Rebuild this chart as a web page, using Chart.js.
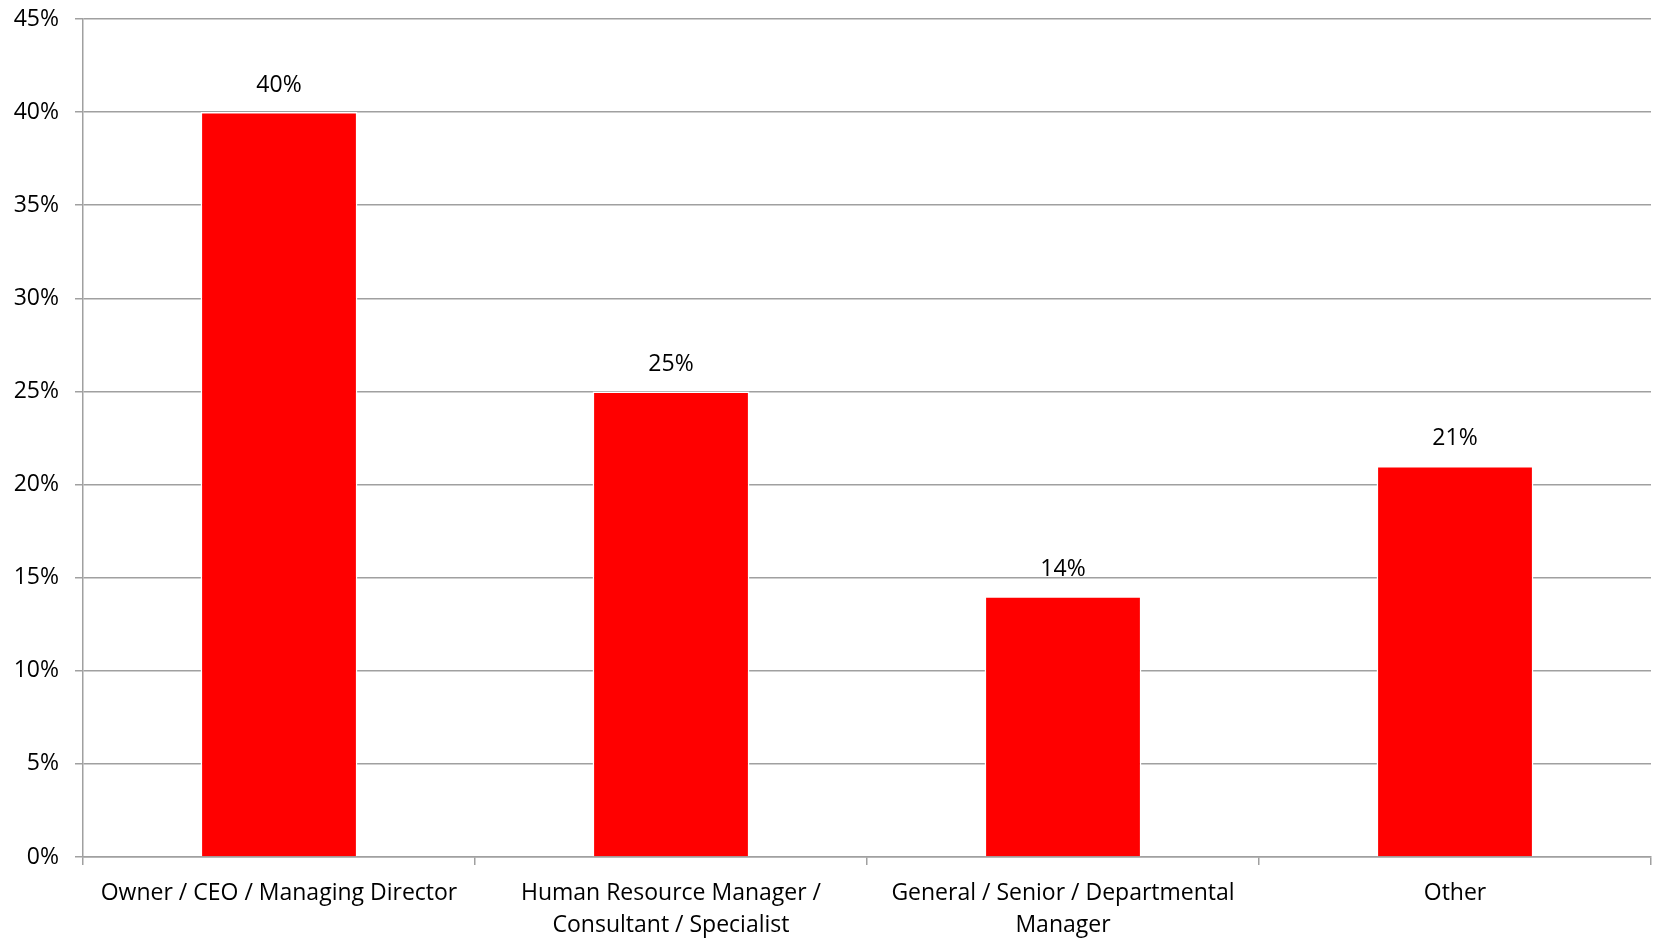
<!DOCTYPE html>
<html>
<head>
<meta charset="utf-8">
<script src="https://cdn.jsdelivr.net/npm/chart.js@4.4.0/dist/chart.umd.min.js"></script>
<style>
  html, body { margin: 0; padding: 0; background: #fff; }
  #wrap { width: 1657px; height: 938px; }
</style>
</head>
<body>
<div id="wrap"><canvas id="chart" width="1657" height="938"></canvas></div>
<script>
const categories = [
    'Owner / CEO / Managing Director',
    ['Human Resource Manager /', 'Consultant / Specialist'],
    ['General / Senior / Departmental', 'Manager'],
    'Other'
];
const shares = [40, 25, 14, 21];
const yTicks = [0, 5, 10, 15, 20, 25, 30, 35, 40, 45];

const FONT = '"Open Sans", "Liberation Sans", sans-serif';
const GRID = '#a0a0a0';

// value label above each bar
const barLabels = {
    id: 'barLabels',
    afterDatasetsDraw(chart) {
        const ctx = chart.ctx;
        const meta = chart.getDatasetMeta(0);
        ctx.save();
        ctx.font = '23px ' + FONT;
        ctx.fillStyle = '#000';
        ctx.textAlign = 'center';
        ctx.textBaseline = 'middle';
        meta.data.forEach((bar, i) => {
            ctx.fillText(shares[i] + '%', bar.x, bar.y - 27);
        });
        ctx.restore();
    }
};

new Chart(document.getElementById('chart').getContext('2d'), {
    type: 'bar',
    data: {
        labels: categories,
        datasets: [{
            data: shares,
            backgroundColor: '#ff0000',
            borderColor: '#ffffff',
            borderWidth: 1.5,
            borderSkipped: 'bottom',
            categoryPercentage: 1,
            barPercentage: 0.4
        }]
    },
    options: {
        responsive: false,
        animation: false,
        layout: { padding: { top: 19, right: 6, left: 0, bottom: 0 } },
        plugins: {
            legend: { display: false },
            tooltip: { enabled: false }
        },
        scales: {
            x: {
                offset: true,
                grid: {
                    offset: true,
                    drawOnChartArea: false,
                    drawTicks: true,
                    tickLength: 8,
                    color: GRID,
                    lineWidth: 1.5
                },
                border: { color: GRID, width: 1.5 },
                ticks: {
                    color: '#000',
                    font: { family: FONT, size: 23, lineHeight: 1.4 },
                    padding: 12,
                    maxRotation: 0,
                    autoSkip: false
                },
                afterFit(scale) { scale.height = 81; }
            },
            y: {
                min: 0,
                max: 45,
                afterBuildTicks(scale) {
                    scale.ticks = yTicks.map(v => ({ value: v }));
                },
                grid: {
                    color: GRID,
                    lineWidth: 1.5,
                    tickLength: 8
                },
                border: { color: GRID, width: 1.5 },
                ticks: {
                    color: '#000',
                    font: { family: FONT, size: 23 },
                    padding: 16,
                    callback: v => v + '%'
                },
                afterFit(scale) {
                    scale.width = 83;
                    scale.paddingTop = 0;
                    scale.paddingBottom = 0;
                }
            }
        }
    },
    plugins: [barLabels]
});
</script>
</body>
</html>
